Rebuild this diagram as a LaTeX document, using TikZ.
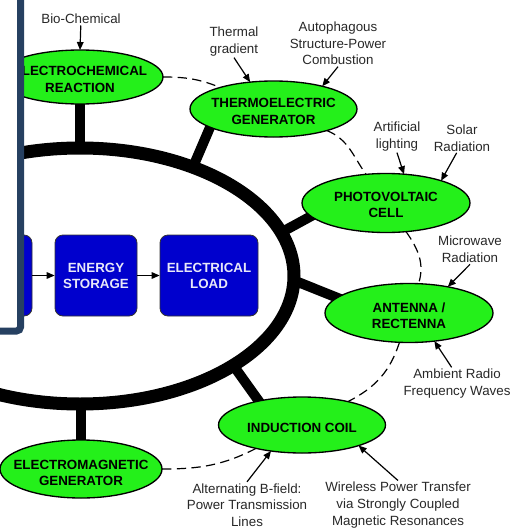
\documentclass[tikz,border=0pt]{standalone}
\usepackage{fontspec}
\setmainfont{Liberation Sans}
\usetikzlibrary{shapes.geometric,arrows.meta,backgrounds}
\definecolor{gfill}{RGB}{36,240,26}
\definecolor{bfill}{RGB}{0,0,205}
\definecolor{navy}{RGB}{38,64,97}
\definecolor{labgray}{RGB}{40,40,40}
\definecolor{boxtext}{RGB}{232,232,248}
\begin{document}
\begin{tikzpicture}[x=0.75pt,y=-0.75pt,
  ring/.style={line width=9.75pt},
  stub/.style={line width=7.5pt, shorten >=-6pt},
  gell/.style={ellipse, draw=black, line width=1pt, fill=gfill, inner sep=0pt, outer sep=0pt},
  elltext/.style={font=\bfseries\fontsize{10}{12.3}\selectfont, align=center, text=black, inner sep=0pt},
  bbox/.style={rectangle, rounded corners=6pt, draw=black!80, line width=0.6pt, fill=bfill, inner sep=0pt, minimum height=60.75pt, font=\bfseries\fontsize{10}{12}\selectfont, text=boxtext, align=center},
  lab/.style={font=\fontsize{10}{12.5}\selectfont, align=center, text=labgray, inner sep=1pt},
  larrow/.style={line width=0.9pt, -{Triangle[length=6pt,width=5pt]}},
  barrow/.style={line width=0.8pt, -{Triangle[length=6pt,width=5pt]}},
  orbit/.style={line width=0.9pt, dash pattern=on 7pt off 4pt},
  panel/.style={draw=navy, line width=5.25pt, fill=white, rounded corners=3pt}]

\useasboundingbox (0,0) rectangle (529,532);
\clip (0,0) rectangle (529,532);
\begin{pgfonlayer}{background}
\fill[white] (0,0) rectangle (529,532);
\end{pgfonlayer}

% central ring
\draw[ring] (80,276) ellipse [x radius=160.5pt, y radius=96pt];

% green harvesting nodes
\node[gell, minimum width=124.5pt, minimum height=40.5pt] (ec) at (80,77) {};
\node[elltext] (ect) at (80,79.5) {ELECTROCHEMICAL\\REACTION};
\node[gell, minimum width=125.25pt, minimum height=42pt] (te) at (273.5,109) {};
\node[elltext] (tet) at (273.5,111.5) {THERMOELECTRIC\\GENERATOR};
\node[gell, minimum width=126pt, minimum height=44.25pt] (pv) at (386,203) {};
\node[elltext] (pvt) at (386,205) {PHOTOVOLTAIC\\CELL};
\node[gell, minimum width=126pt, minimum height=44.25pt] (an) at (409,313) {};
\node[elltext] (ant) at (409,315.5) {ANTENNA /\\RECTENNA};
\node[gell, minimum width=125.25pt, minimum height=42pt] (ic) at (302,425) {};
\node[elltext] (ict) at (302,428) {INDUCTION COIL};
\node[gell, minimum width=121.5pt, minimum height=43.5pt] (em) at (81,469) {};
\node[elltext] (emt) at (81,473) {ELECTROMAGNETIC\\GENERATOR};

% blue chain
\node[bbox, minimum width=61.5pt] (b0) at (-9,275.5) {};
\node[bbox, minimum width=61.5pt] (es) at (96,275.5) {ENERGY\\STORAGE};
\node[bbox, minimum width=73.5pt] (el) at (209,275.5) {ELECTRICAL\\LOAD};
\draw[barrow] (b0) -- (es);
\draw[barrow] (es) -- (el);

% source labels
\node[lab] (bio) at (81,19) {Bio-Chemical};
\node[lab] (thermal) at (234,41.5) {Thermal\\gradient};
\node[lab] (auto) at (338,43.5) {Autophagous\\Structure-Power\\Combustion};
\node[lab] (art) at (397,136.5) {Artificial\\lighting};
\node[lab] (solar) at (462,138) {Solar\\Radiation};
\node[lab] (micro) at (470,249.5) {Microwave\\Radiation};
\node[lab] (amb) at (457,383.5) {Ambient Radio\\Frequency Waves};
\node[lab] (alt) at (247,505) {Alternating B-field:\\Power Transmission\\Lines};
\node[lab] (wire) at (398,505) {Wireless Power Transfer\\via Strongly Coupled\\Magnetic Resonances};

% stubs from the ring
\coordinate (r1) at (80,148);
\coordinate (r2) at (193,167);
\coordinate (r3) at (282,232);
\coordinate (r4) at (293,280);
\coordinate (r5) at (233,365);
\coordinate (r6) at (81,404);
\begin{pgfonlayer}{background}
\draw[stub] (r1) -- (ec.south);
\draw[stub] (r2) -- (te.196);
\draw[stub] (r3) -- (pv.190);
\draw[stub] (r4) -- (an.168);
\draw[stub] (r5) -- (ic.151);
\draw[stub] (r6) -- (em.north);
\end{pgfonlayer}

% dashed orbit links
\draw[orbit] (ec) to[out=0,in=158] (te);
\draw[orbit] (te) to[out=-22,in=125] (pv);
\draw[orbit] (pv) to[out=-55,in=72] (an);
\draw[orbit] (an) to[out=-108,in=27] (ic);
\draw[orbit] (ic) to[out=-153,in=0] (em);

% label arrows
\draw[larrow] (bio) -- (ec.north);
\draw[larrow] (thermal.south) -- (te.131);
\draw[larrow] (auto.south) -- (te.25);
\draw[larrow] (art.south) -- (pv.58);
\draw[larrow] ([xshift=-4pt]solar.south) -- (pv.22);
\draw[larrow] (micro.south) -- (an.34);
\draw[larrow] ([xshift=-4pt]amb.north) -- (an.-48);
\draw[larrow] (alt.north) -- (ic.-140);
\draw[larrow] (wire.north) -- (ic.-20);

% overlapping panel edge
\draw[panel] (-30,-30) rectangle (20.5,331);
\end{tikzpicture}
\end{document}
